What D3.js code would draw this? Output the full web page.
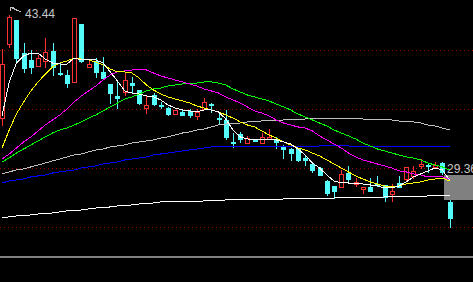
<!DOCTYPE html>
<html>
<head>
<meta charset="utf-8">
<script src="https://cdn.jsdelivr.net/npm/d3@7/dist/d3.min.js"></script>
<style>
  html, body { margin: 0; padding: 0; background: #000; overflow: hidden; }
  svg { display: block; }
</style>
</head>
<body>
<script>
'use strict';

// daily candles (price units)
const open  = [33.96, 40.77, 42.98, 39.94, 39.30, 38.75, 39.21, 40.13, 38.10, 37.92,
               37.28, 42.61, 38.66, 39.21, 38.20, 37.09, 35.99, 36.36, 37.18, 36.54,
               34.88, 36.08, 35.16, 34.88, 34.33, 34.52, 34.61, 34.15, 34.79, 35.25,
               33.96, 33.78, 31.76, 32.49, 31.66, 31.94, 31.66, 32.03, 32.03, 31.30,
               31.11, 31.11, 30.28, 29.73, 29.36, 28.17, 27.71, 27.62, 28.90, 27.89,
               27.43, 27.62, 27.89, 27.80, 26.97, 27.98, 28.35, 28.63, 29.55, 29.64,
               29.46, 29.82, 26.24];
const high  = [40.31, 43.44, 42.98, 40.86, 40.22, 39.76, 41.32, 40.86, 39.02, 38.38,
               43.16, 42.61, 39.30, 39.48, 39.58, 37.09, 37.37, 38.20, 37.74, 36.54,
               36.08, 36.26, 35.44, 34.98, 34.70, 34.70, 34.79, 34.79, 35.80, 35.34,
               34.52, 34.70, 32.58, 32.68, 32.31, 32.03, 32.58, 32.95, 32.22, 31.48,
               31.20, 31.20, 30.47, 29.92, 29.46, 28.26, 27.71, 29.18, 29.55, 28.44,
               27.62, 28.44, 28.63, 27.80, 27.89, 28.63, 29.46, 29.55, 30.19, 29.73,
               29.92, 29.92, 26.42];
const low   = [33.32, 40.50, 39.12, 38.20, 38.10, 38.75, 38.66, 37.92, 37.92, 36.82,
               37.28, 39.12, 38.66, 37.74, 37.64, 35.34, 34.88, 36.08, 36.26, 35.25,
               34.42, 35.16, 34.88, 34.24, 34.33, 34.24, 34.06, 33.87, 34.79, 34.52,
               33.50, 32.03, 31.30, 31.76, 31.66, 31.85, 31.66, 32.03, 31.20, 30.28,
               30.10, 30.01, 29.64, 29.00, 28.72, 26.88, 26.60, 27.62, 28.08, 27.71,
               27.06, 27.25, 27.71, 26.33, 26.33, 27.62, 28.17, 28.44, 29.36, 29.00,
               29.36, 28.81, 23.94];
const close = [38.93, 43.26, 39.48, 38.56, 38.66, 39.48, 40.04, 38.66, 38.01, 37.18,
               43.16, 39.21, 38.93, 38.20, 37.64, 36.26, 35.80, 37.46, 37.00, 35.34,
               35.16, 35.25, 35.07, 34.33, 34.70, 34.24, 34.24, 34.52, 35.44, 35.16,
               33.87, 32.22, 31.66, 32.03, 32.12, 31.85, 32.22, 32.22, 31.76, 31.11,
               30.74, 30.10, 30.10, 29.18, 28.72, 27.06, 27.25, 28.81, 28.35, 28.08,
               27.62, 27.25, 27.80, 26.70, 27.25, 27.62, 29.46, 29.09, 29.73, 29.55,
               29.64, 29.00, 24.76];

// moving average lines, one value per candle
const ma5   = [34.15, 37.28, 39.02, 39.67, 39.94, 39.94, 39.39, 39.02, 38.93, 38.93,
               39.48, 39.30, 39.30, 39.30, 39.02, 38.20, 37.37, 36.45, 36.26, 36.17,
               35.99, 35.90, 35.62, 35.16, 34.88, 34.70, 34.61, 34.52, 34.70, 34.70,
               34.52, 33.87, 32.86, 32.22, 32.03, 31.94, 31.94, 31.94, 31.94, 31.76,
               31.57, 31.11, 30.56, 29.82, 29.36, 28.72, 28.17, 27.98, 27.98, 27.89,
               27.89, 27.80, 27.71, 27.52, 27.52, 27.71, 28.08, 28.54, 28.81, 29.09,
               29.36, 29.18, 28.26];
const ma10  = [31.20, 32.86, 34.33, 35.44, 36.45, 37.28, 38.01, 38.66, 39.02, 39.21,
               39.48, 39.39, 39.30, 39.12, 38.84, 38.47, 38.20, 38.20, 38.10, 37.64,
               37.00, 36.54, 36.17, 35.90, 35.71, 35.53, 35.34, 35.07, 34.88, 34.70,
               34.52, 34.24, 33.96, 33.60, 33.32, 33.14, 32.77, 32.40, 32.12, 31.76,
               31.48, 31.20, 31.02, 30.74, 30.47, 30.10, 29.73, 29.36, 29.00, 28.63,
               28.35, 28.08, 27.89, 27.71, 27.62, 27.71, 27.89, 27.98, 28.08, 28.26,
               28.35, 28.44, 28.17];
const ma20  = [30.19, 30.65, 31.20, 31.76, 32.22, 32.77, 33.32, 33.78, 34.24, 34.79,
               35.44, 35.99, 36.45, 36.91, 37.46, 37.92, 38.20, 38.29, 38.38, 38.47,
               38.38, 38.10, 37.83, 37.64, 37.46, 37.28, 37.09, 36.91, 36.63, 36.45,
               36.26, 35.90, 35.62, 35.34, 34.98, 34.61, 34.42, 34.15, 33.78, 33.50,
               33.32, 33.14, 33.04, 32.77, 32.31, 31.94, 31.57, 31.20, 30.74, 30.38,
               30.10, 29.92, 29.73, 29.55, 29.36, 29.09, 29.00, 28.81, 28.72, 28.54,
               28.54, 28.54, 28.35];
const ma30  = [29.92, 30.28, 30.74, 31.11, 31.48, 31.85, 32.22, 32.58, 32.86, 33.04,
               33.32, 33.60, 33.96, 34.24, 34.61, 34.98, 35.34, 35.71, 35.90, 36.17,
               36.45, 36.63, 36.72, 36.91, 37.00, 37.09, 37.18, 37.18, 37.28, 37.28,
               37.18, 37.00, 36.63, 36.36, 36.08, 35.90, 35.71, 35.53, 35.25, 34.98,
               34.70, 34.33, 34.06, 33.78, 33.50, 33.23, 32.86, 32.58, 32.31, 32.03,
               31.66, 31.39, 31.11, 30.93, 30.74, 30.56, 30.38, 30.28, 30.10, 29.82,
               29.64, 29.46, 29.18];
const ma60  = [28.81, 29.00, 29.18, 29.27, 29.46, 29.64, 29.82, 30.01, 30.19, 30.38,
               30.56, 30.65, 30.84, 31.02, 31.11, 31.30, 31.39, 31.48, 31.66, 31.76,
               31.85, 31.94, 32.12, 32.22, 32.40, 32.58, 32.68, 32.86, 32.95, 33.14,
               33.32, 33.41, 33.50, 33.50, 33.60, 33.60, 33.69, 33.69, 33.69, 33.78,
               33.78, 33.78, 33.87, 33.87, 33.87, 33.87, 33.87, 33.87, 33.87, 33.87,
               33.87, 33.78, 33.78, 33.78, 33.78, 33.69, 33.60, 33.60, 33.50, 33.32,
               33.23, 33.04, 32.86];
const ma120 = [27.98, 28.17, 28.26, 28.35, 28.54, 28.63, 28.72, 28.90, 29.00, 29.09,
               29.18, 29.36, 29.46, 29.55, 29.73, 29.82, 29.92, 30.10, 30.19, 30.28,
               30.38, 30.56, 30.65, 30.74, 30.84, 30.93, 31.02, 31.11, 31.20, 31.30,
               31.30, 31.30, 31.30, 31.30, 31.30, 31.30, 31.30, 31.30, 31.30, 31.30,
               31.30, 31.30, 31.30, 31.30, 31.39, 31.39, 31.39, 31.39, 31.39, 31.30,
               31.30, 31.30, 31.30, 31.30, 31.30, 31.30, 31.30, 31.30, 31.30, 31.30,
               31.30, 31.30, 31.30];
const ma250 = [24.76, 24.86, 24.95, 24.95, 25.04, 25.13, 25.13, 25.22, 25.32, 25.41,
               25.41, 25.50, 25.59, 25.68, 25.68, 25.78, 25.87, 25.87, 25.96, 26.05,
               26.05, 26.14, 26.24, 26.24, 26.24, 26.24, 26.24, 26.24, 26.33, 26.33,
               26.33, 26.42, 26.42, 26.42, 26.42, 26.42, 26.42, 26.42, 26.42, 26.51,
               26.51, 26.51, 26.51, 26.51, 26.51, 26.51, 26.60, 26.60, 26.60, 26.60,
               26.60, 26.60, 26.60, 26.70, 26.70, 26.70, 26.70, 26.70, 26.70, 26.79,
               26.79, 26.79, 26.79];

// price grid and labels
const gridPrices = [23.93, 29.36, 34.79, 40.22];
const maxLabel = "43.44";
const priceLabel = "29.36";

(function () {
  const width = 473, height = 282;
  const upColor = "#ff3232", downColor = "#54fcfc";

  const svg = d3.select('body').append('svg')
    .attr('width', width)
    .attr('height', height)
    .style('background', '#000');

  const x = d3.scaleLinear().domain([0, open.length - 1]).range([2, 449.5]);
  const y = d3.scaleLinear().domain([23.93, 43.44]).range([227, 15]);

  // dotted red price grid
  svg.selectAll('.grid')
    .data(gridPrices)
    .enter().append('line')
    .attr('class', 'grid')
    .attr('x1', 0)
    .attr('x2', width)
    .attr('y1', d => Math.round(y(d)) + 0.5)
    .attr('y2', d => Math.round(y(d)) + 0.5)
    .attr('stroke', '#a00000')
    .attr('stroke-width', 1)
    .attr('stroke-dasharray', '1,3')
    .attr('shape-rendering', 'crispEdges');

  // panel separator at the bottom
  svg.append('line')
    .attr('x1', 0).attr('x2', width)
    .attr('y1', 257).attr('y2', 257)
    .attr('stroke', '#808080')
    .attr('stroke-width', 2)
    .attr('shape-rendering', 'crispEdges');

  // grey box at the right edge
  svg.append('rect')
    .attr('x', 444).attr('y', 175)
    .attr('width', width - 444).attr('height', 25)
    .attr('fill', '#808080');

  // candles
  const idx = d3.range(open.length);
  const isUp = i => close[i] >= open[i];
  const cx = i => Math.round(x(i));

  const g = svg.append('g').attr('shape-rendering', 'crispEdges');

  g.selectAll('.wick')
    .data(idx)
    .enter().append('line')
    .attr('class', 'wick')
    .attr('x1', i => cx(i) + 0.5)
    .attr('x2', i => cx(i) + 0.5)
    .attr('y1', i => Math.round(y(high[i])))
    .attr('y2', i => Math.round(y(low[i])) + 1)
    .attr('stroke', i => isUp(i) ? upColor : downColor);

  g.selectAll('.body')
    .data(idx)
    .enter().append('rect')
    .attr('class', 'body')
    .attr('x', i => isUp(i) ? cx(i) - 2 + 0.5 : cx(i) - 2)
    .attr('y', i => {
      let t = Math.round(y(Math.max(open[i], close[i])));
      return isUp(i) ? t + 0.5 : t;
    })
    .attr('width', i => isUp(i) ? 4 : 5)
    .attr('height', i => {
      let t = Math.round(y(Math.max(open[i], close[i])));
      let b = Math.round(y(Math.min(open[i], close[i])));
      return isUp(i) ? Math.max(1, b - t) : Math.max(1, b - t + 1);
    })
    .attr('fill', i => isUp(i) ? '#000' : downColor)
    .attr('stroke', i => isUp(i) ? upColor : 'none')
    .attr('stroke-width', 1);

  // moving averages
  const lines = [
    { values: ma60, color: '#c0c0c0' },
    { values: ma120, color: '#0000ff' },
    { values: ma30, color: '#00ff00' },
    { values: ma20, color: '#ff00ff' },
    { values: ma10, color: '#ffff00' },
    { values: ma5, color: '#ffffff' },
    { values: ma250, color: '#ffffff' }
  ];

  let lineGen = d3.line()
    .x((d, i) => x(i))
    .y(d => y(d));

  svg.selectAll('.ma')
    .data(lines)
    .enter().append('path')
    .attr('class', 'ma')
    .attr('d', d => lineGen(d.values))
    .attr('fill', 'none')
    .attr('stroke', d => d.color)
    .attr('stroke-width', 1)
    .attr('shape-rendering', 'crispEdges');

  // highest price marker
  let ax = cx(1) + 1;
  let ay = Math.round(y(43.44)) - 8;
  svg.append('path')
    .attr('d', `M${ax},${ay}L${ax + 11},${ay + 5}M${ax},${ay}h4M${ax},${ay}v4`)
    .attr('stroke', '#c0c0c0')
    .attr('fill', 'none')
    .attr('shape-rendering', 'crispEdges');

  svg.append('text')
    .attr('x', ax + 15)
    .attr('y', ay + 11)
    .style('font-family', 'Liberation Sans, Arial, sans-serif')
    .style('font-size', '12px')
    .attr('fill', '#c8c8c8')
    .text(maxLabel);

  // price label on the right edge (cut by the frame, as in the source)
  svg.append('text')
    .attr('x', 447)
    .attr('y', Math.round(y(29.36)) + 5)
    .style('font-family', 'Liberation Sans, Arial, sans-serif')
    .style('font-size', '12px')
    .attr('fill', '#c8c8c8')
    .text(priceLabel);
})();
</script>
</body>
</html>
